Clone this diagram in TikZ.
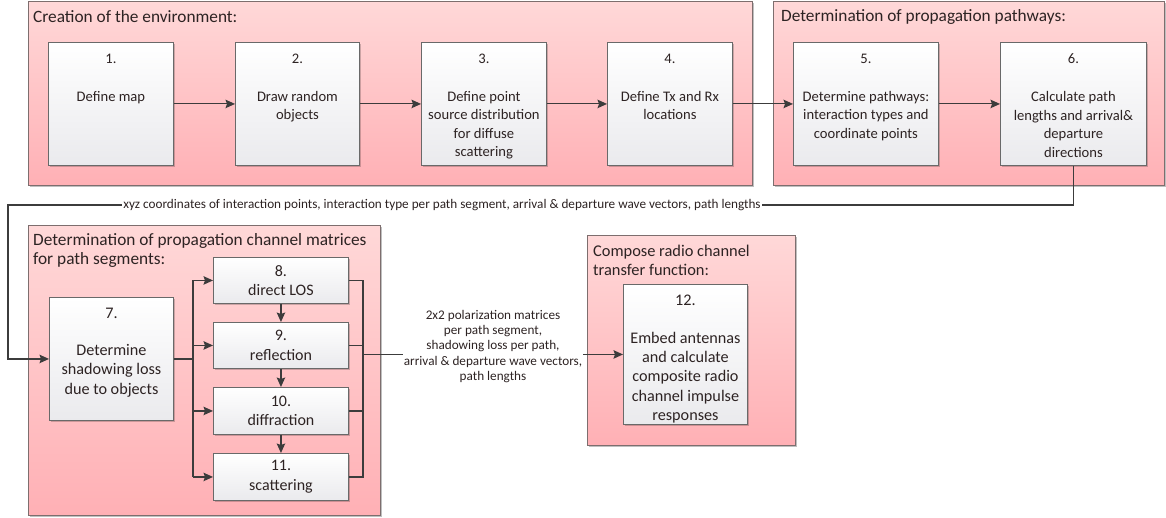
\documentclass[tikz,border=0pt]{standalone}
\usepackage{fontspec}
\setmainfont{Carlito}
\usetikzlibrary{arrows.meta,shadows,calc}
\definecolor{pnltop}{RGB}{255,216,216}
\definecolor{pnlbot}{RGB}{255,176,181}
\definecolor{pnlline}{RGB}{125,110,110}
\definecolor{boxtop}{RGB}{255,255,255}
\definecolor{boxbot}{RGB}{234,234,237}
\definecolor{boxline}{RGB}{105,105,105}
\definecolor{txtc}{RGB}{45,35,35}
\definecolor{arrc}{RGB}{60,60,60}
\tikzset{
  panel/.style={draw=pnlline, line width=0.9pt, top color=pnltop, bottom color=pnlbot,
    anchor=north west, inner sep=0pt,
    drop shadow={shadow xshift=2pt, shadow yshift=-2pt, fill=black, opacity=0.25}},
  stepbox/.style={draw=boxline, line width=0.9pt, top color=boxtop, bottom color=boxbot,
    anchor=north west, inner sep=0pt,
    drop shadow={shadow xshift=1.5pt, shadow yshift=-1.5pt, fill=black, opacity=0.2}},
  smallbox/.style={stepbox, align=center, text=txtc, font=\fontsize{16}{19.5}\selectfont},
  boxtext/.style={anchor=north, inner sep=0pt, align=center, text=txtc,
    font=\fontsize{14.6}{18.5}\selectfont},
  bigtext/.style={boxtext, font=\fontsize{16.2}{19.2}\selectfont},
  ptitle/.style={anchor=west, inner sep=0pt, align=left, text=txtc,
    font=\fontsize{17.3}{19}\selectfont},
  lbl/.style={inner sep=1pt, align=center, text=txtc, fill=white,
    font=\fontsize{13.2}{15.3}\selectfont},
  wire/.style={draw=arrc, line width=1.1pt},
  conn/.style={wire, -{Stealth[length=9.5pt,width=8.5pt,inset=1.5pt]}}
}
\begin{document}
\begin{tikzpicture}[x=1pt,y=-1pt]
\useasboundingbox (0,0) rectangle (1166,518);
% panels
\node[panel, minimum width=724pt, minimum height=184pt] (pA) at (28,1) {};
\node[panel, minimum width=391pt, minimum height=184pt] (pB) at (773,1) {};
\node[panel, minimum width=352pt, minimum height=290pt] (pC) at (28,225) {};
\node[panel, minimum width=208pt, minimum height=210pt] (pD) at (587,235) {};
\node[ptitle] (tA) at (33,17) {Creation of the environment:};
\node[ptitle] (tB) at (781,17) {Determination of propagation pathways:};
\node[ptitle] (tC) at (33,250.5) {Determination of propagation channel matrices\\for path segments:};
\node[ptitle, font=\fontsize{16.4}{19}\selectfont] (tD) at (593,260.5) {Compose radio channel\\transfer function:};
% boxes
\node[stepbox, minimum width=125pt, minimum height=123pt] (b1) at (48,42) {};
\node[stepbox, minimum width=124pt, minimum height=123pt] (b2) at (235,42) {};
\node[stepbox, minimum width=125pt, minimum height=123pt] (b3) at (421,42) {};
\node[stepbox, minimum width=125pt, minimum height=123pt] (b4) at (607,42) {};
\node[stepbox, minimum width=145pt, minimum height=123pt] (b5) at (793,42) {};
\node[stepbox, minimum width=146pt, minimum height=123pt] (b6) at (1000,42) {};
\node[stepbox, minimum width=124pt, minimum height=123pt] (b7) at (49,297) {};
\node[stepbox, minimum width=124pt, minimum height=140pt] (b12) at (623,284) {};
\node[smallbox, minimum width=135pt, minimum height=46pt] (b8) at (213,257) {8.\\direct LOS};
\node[smallbox, minimum width=135pt, minimum height=46pt] (b9) at (213,322) {9.\\reflection};
\node[smallbox, minimum width=135pt, minimum height=47pt] (b10) at (213,387) {10.\\diffraction};
\node[smallbox, minimum width=135pt, minimum height=47pt] (b11) at (213,453) {11.\\scattering};
% box texts
\node[boxtext] (x1) at ($(b1.north)+(0,11.5)$) {1.\\[19.5pt]Define map};
\node[boxtext] (x2) at ($(b2.north)+(0,11.5)$) {2.\\[19.5pt]Draw random\\objects};
\node[boxtext] (x3) at ($(b3.north)+(0,11.5)$) {3.\\[19.5pt]Define point\\source distribution\\for diffuse\\scattering};
\node[boxtext] (x4) at ($(b4.north)+(0,11.5)$) {4.\\[19.5pt]Define Tx and Rx\\locations};
\node[boxtext] (x5) at ($(b5.north)+(0,11.5)$) {5.\\[19.5pt]Determine pathways:\\interaction types and\\coordinate points};
\node[boxtext] (x6) at ($(b6.north)+(0,11.5)$) {6.\\[19.5pt]Calculate path\\lengths and arrival\&\\departure\\directions};
\node[bigtext] (x7) at ($(b7.north)+(0,11)$) {7.\\[18pt]Determine\\shadowing loss\\due to objects};
\node[bigtext] (x12) at ($(b12.north)+(0,11)$) {12.\\[18.5pt]Embed antennas\\and calculate\\composite radio\\channel impulse\\responses};
% top row arrows
\draw[conn] (b1.east) -- (b2.west);
\draw[conn] (b2.east) -- (b3.west);
\draw[conn] (b3.east) -- (b4.west);
\draw[conn] (b4.east) -- (b5.west);
\draw[conn] (b5.east) -- (b6.west);
% feedback to box 7
\coordinate (k1) at (8,205);
\draw[conn] (b6.south) |- (k1) |- (b7.west);
\node[lbl] (l1) at (442,205) {xyz coordinates of interaction points, interaction type per path segment, arrival \& departure wave vectors, path lengths};
% branching
\coordinate (j1) at (193,0);
\coordinate (j2) at (363,0);
\draw[wire] (b7.east) -- (b7.east -| j1);
\draw[wire] (j1 |- b8.west) -- (j1 |- b11.west);
\draw[conn] (j1 |- b8.west) -- (b8.west);
\draw[conn] (j1 |- b9.west) -- (b9.west);
\draw[conn] (j1 |- b10.west) -- (b10.west);
\draw[conn] (j1 |- b11.west) -- (b11.west);
\draw[conn] (b8.south) -- (b9.north);
\draw[conn] (b9.south) -- (b10.north);
\draw[conn] (b10.south) -- (b11.north);
\draw[wire] (b8.east) -- (b8.east -| j2) -- (b11.east -| j2) -- (b11.east);
\draw[wire] (b9.east) -- (b9.east -| j2);
\draw[wire] (b10.east) -- (b10.east -| j2);
% output
\node[lbl, fill=none] (l2) at (493,346.5) {2x2 polarization matrices\\per path segment,\\shadowing loss per path,\\arrival \& departure wave vectors,\\path lengths};
\draw[wire] (j2 |- b12.west) -- (l2.west |- b12.west);
\draw[conn] (l2.east |- b12.west) -- (b12.west);
\end{tikzpicture}
\end{document}
